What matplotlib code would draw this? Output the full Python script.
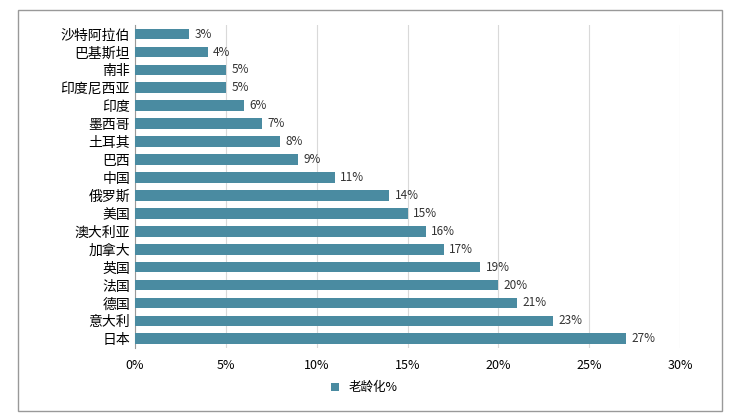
import matplotlib
matplotlib.use("Agg")
import matplotlib.pyplot as plt
from matplotlib.patches import Rectangle

plt.rcParams['font.family'] = ['Noto Sans CJK SC', 'DejaVu Sans']

countries = ["沙特阿拉伯","巴基斯坦","南非","印度尼西亚","印度","墨西哥","土耳其","巴西","中国",
             "俄罗斯","美国","澳大利亚","加拿大","英国","法国","德国","意大利","日本"]
values = [3,4,5,5,6,7,8,9,11,14,15,16,17,19,20,21,23,27]
color = "#4a8ba1"

fig = plt.figure(figsize=(7.29,4.19), dpi=100)
fig.patches.append(Rectangle((0.025,0.02),0.965,0.955, transform=fig.transFigure,
                             fill=False, edgecolor="#999999", lw=1))
ax = fig.add_axes([0.185,0.17,0.748,0.77])
y = list(range(len(countries)))
bars = ax.barh(y, values, height=0.6, color=color, label="老龄化%", zorder=3)
ax.invert_yaxis()
ax.set_yticks(y)
ax.set_yticklabels(countries, fontsize=10)
ax.set_ylim(len(countries)-0.5, -0.5)
ax.set_xlim(0,30)
ax.set_xticks(range(0,31,5))
ax.set_xticklabels([f"{t}%" for t in range(0,31,5)], fontsize=9)
for yi, v in zip(y, values):
    ax.text(v+0.3, yi, f"{v}%", va="center", fontsize=8.5, color="#333333")
ax.grid(axis="x", color="#d9d9d9", lw=0.8, zorder=0)
for s in ["top","right","bottom"]:
    ax.spines[s].set_visible(False)
ax.spines["left"].set_color("#999999")
ax.tick_params(length=0)
ax.tick_params(axis='x', pad=8)
fig.legend(handles=[bars], labels=["老龄化%"], loc="center", bbox_to_anchor=(0.5,0.075),
           frameon=False, fontsize=9, handlelength=0.6, handleheight=0.6)
fig.savefig("out.png", dpi=100)
